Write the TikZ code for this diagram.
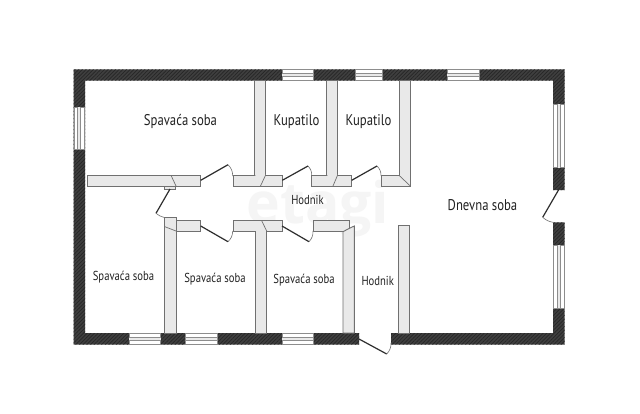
\documentclass[tikz,border=0pt]{standalone}
\usepackage{fontspec}
\setmainfont[FakeStretch=0.82]{PT Sans}
\usetikzlibrary{patterns.meta}
\definecolor{wallc}{HTML}{3F3F3F}
\definecolor{hatchc}{HTML}{262626}
\definecolor{partc}{HTML}{E9E9E9}
\definecolor{partl}{HTML}{707070}
\definecolor{leafc}{HTML}{2E2E2E}
\definecolor{txtc}{HTML}{222222}
\tikzset{
  x=1pt,y=-1pt,
  wall/.style={fill=wallc,postaction={pattern={Lines[angle=45,distance=2.6pt,line width=.7pt]},pattern color=hatchc}},
  part/.style={fill=partc,draw=partl,line width=.9pt},
  miter/.style={draw=partl,line width=.7pt},
  leaf/.style={draw=leafc,line width=1.2pt},
  swing/.style={draw=partl,line width=.6pt},
  winl/.style={draw=partl!80,line width=.6pt},
  lab/.style={text=txtc,inner sep=0pt,anchor=center},
  big/.style={lab,font=\fontsize{15.5}{16}\selectfont},
  small/.style={lab,font=\fontsize{13}{14}\selectfont},
}
\newcommand{\hwin}[3]{% x1 x2 ytop
  \fill[white] (#1,#3) rectangle (#2,#3+11.5);
  \draw[winl] (#1,#3+.4) -- (#2,#3+.4) (#1,#3+11.1) -- (#2,#3+11.1) (#1,#3) -- (#1,#3+11.5) (#2,#3) -- (#2,#3+11.5);
  \fill[partc] (#1,#3+4.2) rectangle (#2,#3+7.2);
  \draw[winl] (#1,#3+4.2) -- (#2,#3+4.2) (#1,#3+7.2) -- (#2,#3+7.2);
}
\newcommand{\vwin}[3]{% y1 y2 xleft
  \fill[white] (#3,#1) rectangle (#3+11.5,#2);
  \draw[winl] (#3+.4,#1) -- (#3+.4,#2) (#3+11.1,#1) -- (#3+11.1,#2) (#3,#1) -- (#3+11.5,#1) (#3,#2) -- (#3+11.5,#2);
  \fill[partc] (#3+4.2,#1) rectangle (#3+7.2,#2);
  \draw[winl] (#3+4.2,#1) -- (#3+4.2,#2) (#3+7.2,#1) -- (#3+7.2,#2);
}
\begin{document}
\begin{tikzpicture}
\useasboundingbox (0,0) rectangle (640,413);
\fill[white] (0,0) rectangle (640,413);
% watermark
\node[inner sep=0pt,text=black!4] (mark) at (318,209) {\fontspec{Open Sans Bold}\fontsize{57}{57}\selectfont etagi};
% outer walls
\path[wall] (73.5,69.3) -- (564.5,69.3) -- (564.5,190) -- (553,190) -- (553,80.7) -- (85,80.7) -- (85,333) -- (359,333) -- (359,344.5) -- (73.5,344.5) -- cycle;
\path[wall] (391,333) -- (553,333) -- (553,222.3) -- (564.5,222.3) -- (564.5,344.5) -- (391,344.5) -- cycle;
% windows
\vwin{107}{149}{73.5}
\vwin{104}{167.7}{553}
\vwin{245}{308}{553}
\hwin{282}{313.3}{69.3}
\hwin{355.7}{382.3}{69.3}
\hwin{447.3}{479}{69.3}
\hwin{129}{160.7}{333}
\hwin{185.7}{217.3}{333}
\hwin{282}{313.3}{333}
% upper partitions
\draw[part] (254.7,80.7) rectangle (265.7,175.3);
\draw[part] (326.7,80.7) rectangle (337.7,175.3);
\draw[part] (87,175.3) rectangle (200.7,186);
\draw[part] (233,175.3) rectangle (282.3,186);
\draw[part] (311.7,175.3) rectangle (351.7,186);
\draw[part] (381,175.3) -- (399,175.3) -- (399,80.7) -- (410.3,80.7) -- (410.3,186) -- (381,186) -- cycle;
\draw[part] (164.5,186) rectangle (175.7,189);
\fill[partc] (255.4,174) rectangle (265,176.5) (327.4,174) rectangle (337,176.5);
\draw[miter] (171,175.3) -- (176,186) (265.5,175.3) -- (260.5,186) (337.5,175.3) -- (333,186) (399,175.3) -- (410.3,186);
% lower partitions
\draw[part] (164.3,217.5) rectangle (176,333);
\draw[part] (176,220.7) rectangle (200.7,231.7);
\draw[part] (233,220.7) rectangle (282,231.7);
\draw[part] (255.7,231.7) rectangle (266.7,333);
\draw[part] (313,220.7) rectangle (349,231.7);
\draw[part] (343,231.7) -- (349,228.5) -- (354.3,226) -- (354.3,333) -- (343,333) -- cycle;
\draw[part] (398,225.7) rectangle (409.3,333);
\fill[partc] (256.4,230.5) rectangle (266,233);
\draw[miter] (164.3,226.5) -- (176,231) (261.7,220.7) -- (267,231.7);
% doors
\draw[leaf] (200.7,180.3) -- (228,164.7);
\draw[swing] (228,164.7) to[bend left=22] (232.7,176);
\draw[leaf] (170,189) -- (156,213.3);
\draw[swing] (156,213.3) to[bend right=12] (164.3,217.5);
\draw[leaf] (200.7,226) -- (228,241.7);
\draw[swing] (228,241.7) to[bend right=22] (232.7,231);
\draw[leaf] (282.3,180.3) -- (308,166);
\draw[swing] (308,166) to[bend left=22] (311.7,175.5);
\draw[leaf] (351.7,180.3) -- (377,166);
\draw[swing] (377,166) to[bend left=22] (381,175.5);
\draw[leaf] (282,226) -- (309,241.7);
\draw[swing] (309,241.7) to[bend right=22] (313,231);
\draw[leaf] (359,339) -- (386.7,354);
\draw[swing] (386.7,354) to[bend right=22] (391,343);
\draw[leaf] (558.5,190) -- (542.7,217.3);
\draw[swing] (542.7,217.3) to[bend right=15] (553,222.3);
% labels
\node[big] (n1) at (180.5,121.5) {Spavaća soba};
\node[big] (n2) at (296.5,121.5) {Kupatilo};
\node[big] (n3) at (368.5,121.5) {Kupatilo};
\node[big] (n4) at (482.5,205) {Dnevna soba};
\node[small] (n5) at (307.5,200) {Hodnik};
\node[small] (n6) at (123.5,277.5) {Spavaća soba};
\node[small] (n7) at (215,279) {Spavaća soba};
\node[small] (n8) at (304,280) {Spavaća soba};
\node[small] (n9) at (377.7,280.5) {Hodnik};
\end{tikzpicture}
\end{document}
